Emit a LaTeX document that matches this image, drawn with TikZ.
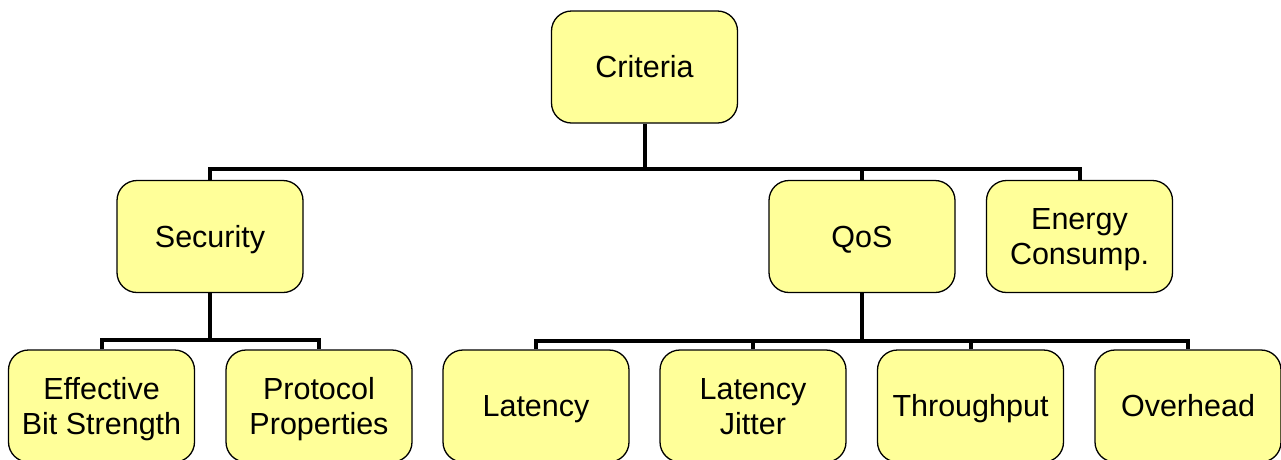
\documentclass[tikz,border=0pt]{standalone}
\usepackage{fontspec}
\setmainfont{Liberation Sans}
\begin{document}
\begin{tikzpicture}[x=1pt,y=-1pt,
  crit/.style={draw=black, line width=1.3pt, fill=critfill, rounded corners=20pt,
    minimum width=186pt, minimum height=112pt, inner sep=0pt,
    label={[critlabel]center:#1}},
  critlabel/.style={align=center, inner sep=0pt, yshift=-3.9pt,
    font=\fontsize{30.5}{35}\selectfont},
  link/.style={line width=4pt}]
\definecolor{critfill}{HTML}{FFFF99}
\useasboundingbox (0,0) rectangle (1281,459);
\clip (0,0) rectangle (1281,459);

% top level
\node[crit={\strut Criteria}] (root) at (644.5,67) {};

% second level
\node[crit={\strut Security}] (sec) at (210,236.5) {};
\node[crit={\strut QoS}] (qos) at (862,236.5) {};
\node[crit={\strut Energy\\\strut Consump.}] (energy) at (1079.5,236.5) {};

% third level
\node[crit={\strut Effective\\\strut Bit Strength}] (ebs) at (101.5,406) {};
\node[crit={\strut Protocol\\\strut Properties}] (prot) at (319,406) {};
\node[crit={\strut Latency}] (lat) at (536,406) {};
\node[crit={\strut Latency\\\strut Jitter}] (jit) at (753,406) {};
\node[crit={\strut Throughput}] (thr) at (970.5,406) {};
\node[crit={\strut Overhead}] (ovh) at (1188,406) {};

% connectors
\coordinate (rootbar) at (644.5,169);
\coordinate (secbar) at (210,340);
\coordinate (qosbar) at (862,341);

\draw[link] (root.south) -- (rootbar);
\draw[link] (sec.north) |- (rootbar) -| (energy.north);
\draw[link] (qos.north) -- (qos.north |- rootbar);

\draw[link] (sec.south) -- (secbar);
\draw[link] (ebs.north) |- (secbar) -| (prot.north);

\draw[link] (qos.south) -- (qosbar);
\draw[link] (lat.north) |- (qosbar) -| (ovh.north);
\draw[link] (jit.north) -- (jit.north |- qosbar);
\draw[link] (thr.north) -- (thr.north |- qosbar);
\end{tikzpicture}
\end{document}
